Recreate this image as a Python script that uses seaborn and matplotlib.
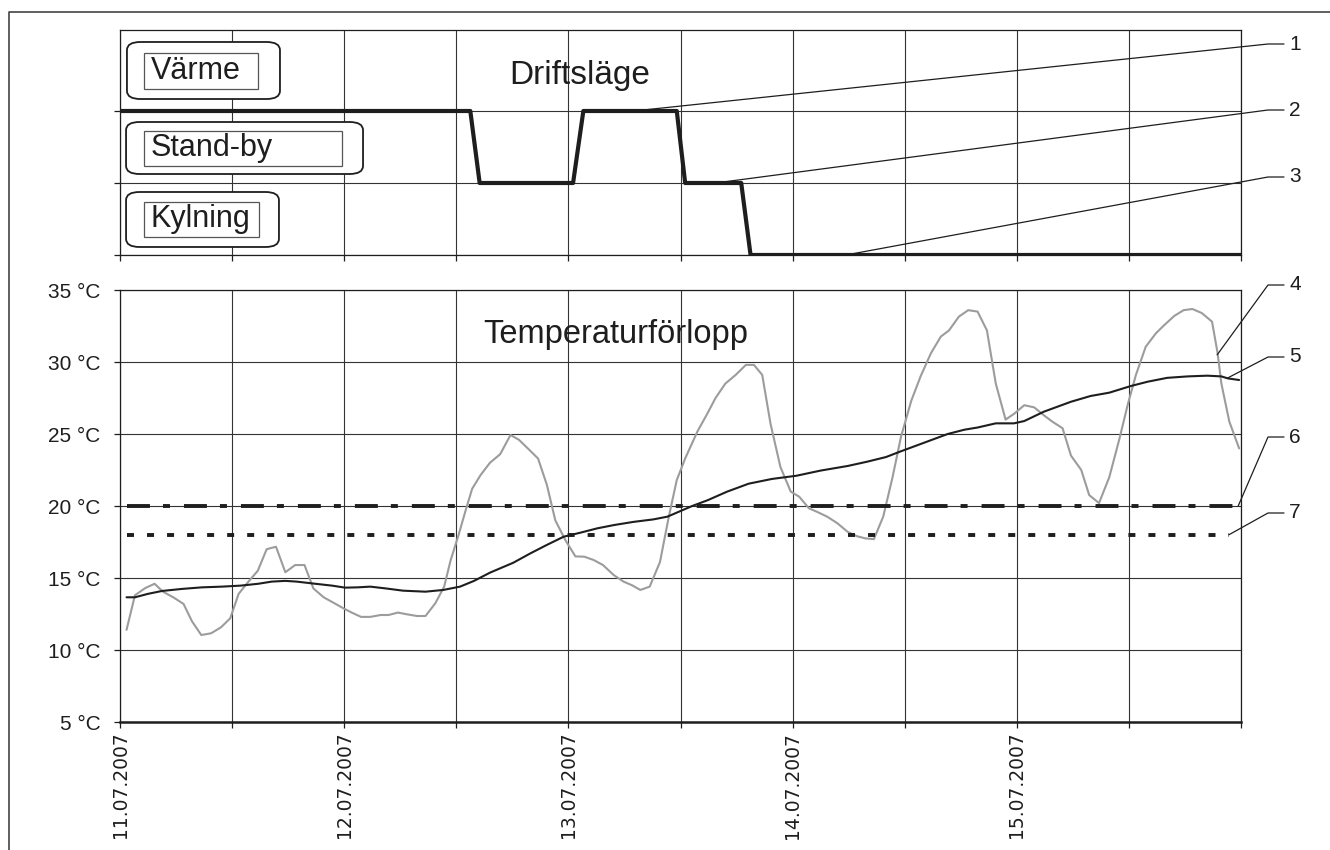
import numpy as np
import pandas as pd
import matplotlib.pyplot as plt
import seaborn as sns
from matplotlib.lines import Line2D
from matplotlib.patches import FancyBboxPatch, Rectangle

# --- data ---------------------------------------------------------------
# Driftsläge: 0 = Kylning, 1 = Stand-by, 2 = Värme (hours from 11.07.2007 00:00)
mode_hours = [0, 37.5, 38.5, 48.5, 49.6, 59.6, 60.5, 66.5, 67.5, 120]
mode_level = [2, 2, 1, 1, 2, 2, 1, 1, 0, 0]
mode_names = ["Kylning", "Stand-by", "Värme"]

# outdoor temperature (grey curve)
out_hours = [0.7, 1.6, 2.7, 3.7, 4.6, 5.7, 6.8, 7.7, 8.7, 9.75, 10.8, 11.8,
             12.7, 13.75, 14.75, 15.7, 16.7, 17.7, 18.75, 19.75, 20.7, 21.8,
             22.86, 23.9, 24.8, 25.8, 26.8, 27.9, 28.75, 29.75, 30.7, 31.8,
             32.7, 33.75, 34.7, 35.4, 36.25, 37.0, 37.7, 38.6, 39.6, 40.7,
             41.8, 42.7, 43.75, 44.75, 45.7, 46.6, 47.7, 48.75, 49.7, 50.7,
             51.7, 52.86, 53.9, 54.8, 55.7, 56.7, 57.8, 58.75, 59.6, 60.5,
             61.8, 62.86, 63.75, 64.8, 65.9, 67.0, 67.86, 68.75, 69.64, 70.7,
             71.8, 72.7, 73.75, 74.6, 75.7, 76.8, 77.9, 78.9, 79.8, 80.7,
             81.7, 82.7, 83.6, 84.7, 85.7, 86.8, 87.86, 88.75, 89.8, 90.8,
             91.8, 92.8, 93.75, 94.8, 95.7, 96.8, 97.86, 98.9, 99.8, 100.9,
             101.8, 102.9, 103.75, 104.8, 105.9, 106.96, 107.86, 108.75,
             109.8, 110.9, 111.8, 112.86, 113.86, 114.8, 115.8, 116.9, 117.5,
             117.9, 118.75, 119.8]
out_temp = [11.4, 13.8, 14.3, 14.6, 14.05, 13.66, 13.2, 12.0, 11.04, 11.16,
            11.57, 12.2, 13.9, 14.75, 15.5, 17.0, 17.17, 15.4, 15.9, 15.9,
            14.28, 13.66, 13.28, 12.9, 12.6, 12.3, 12.3, 12.43, 12.43, 12.6,
            12.48, 12.36, 12.36, 13.24, 14.4, 16.25, 18.0, 19.7, 21.2, 22.15,
            23.0, 23.6, 24.93, 24.6, 23.94, 23.3, 21.46, 19.0, 17.6, 16.5,
            16.48, 16.25, 15.9, 15.2, 14.75, 14.5, 14.17, 14.4, 16.1, 19.26,
            21.8, 23.3, 25.16, 26.4, 27.5, 28.5, 29.1, 29.8, 29.8, 29.1, 25.7,
            22.7, 21.0, 20.65, 19.84, 19.6, 19.26, 18.8, 18.2, 17.9, 17.75,
            17.7, 19.26, 22.0, 24.8, 27.3, 29.0, 30.6, 31.76, 32.2, 33.15,
            33.6, 33.5, 32.2, 28.5, 26.0, 26.4, 27.0, 26.85, 26.3, 25.86, 25.4,
            23.5, 22.5, 20.76, 20.2, 22.0, 24.6, 27.0, 29.1, 31.06, 32.0,
            32.57, 33.2, 33.6, 33.68, 33.4, 32.8, 30.6, 28.5, 25.86, 24.0]

# indoor temperature (black curve)
in_hours = [0.7, 1.6, 3.0, 4.5, 6.6, 8.75, 10.9, 12.9, 14.8, 16.25, 17.7,
            18.9, 20.9, 22.7, 24.1, 25.4, 26.8, 28.4, 30.3, 32.7, 34.6, 36.4,
            37.9, 39.6, 42.1, 43.9, 45.7, 47.5, 49.3, 51.1, 52.9, 55.0, 57.1,
            58.6, 60.0, 61.25, 62.9, 65.0, 67.3, 69.8, 72.4, 75.0, 77.9, 80.0,
            82.0, 83.6, 86.1, 88.6, 90.4, 91.8, 93.75, 95.7, 96.8, 98.9,
            101.8, 103.9, 105.9, 108.2, 110.0, 112.1, 114.3, 116.4, 117.9,
            118.6, 119.8]
in_temp = [13.66, 13.66, 13.9, 14.1, 14.24, 14.35, 14.4, 14.47, 14.6, 14.75,
           14.8, 14.75, 14.6, 14.47, 14.33, 14.35, 14.4, 14.28, 14.12, 14.05,
           14.17, 14.4, 14.8, 15.37, 16.06, 16.7, 17.3, 17.87, 18.15, 18.45,
           18.68, 18.9, 19.07, 19.26, 19.65, 20.0, 20.4, 21.0, 21.55, 21.88,
           22.1, 22.46, 22.78, 23.08, 23.4, 23.8, 24.4, 25.0, 25.3, 25.45,
           25.74, 25.74, 25.9, 26.55, 27.24, 27.64, 27.87, 28.33, 28.63, 28.9,
           29.0, 29.05, 29.0, 28.86, 28.75]

# limit lines
limit6_hours = [0.7, 119.7]
limit6_temp = [20, 20]
limit7_hours = [0.7, 118.7]
limit7_temp = [18, 18]

y_ticks = [5, 10, 15, 20, 25, 30, 35]
x_ticks = list(range(0, 121, 12))
day_labels = ["11.07.2007", "", "12.07.2007", "", "13.07.2007", "", "14.07.2007",
              "", "15.07.2007", "", ""]

# callouts: (number, x, y, axis)
callouts = [("1", 55.0, 2, "top"), ("2", 63.75, 1, "top"), ("3", 77.7, 0, "top"),
            ("4", 117.45, 30.5, "bot"), ("5", 118.6, 28.9, "bot"),
            ("6", 119.7, 20, "bot"), ("7", 118.7, 18, "bot")]

# --- style --------------------------------------------------------------
sns.set_theme(style="white")
plt.rcParams["font.family"] = ["Liberation Sans", "DejaVu Sans"]
ink = "#1e1e1e"
W, H = 1330, 850

fig = plt.figure(figsize=(13.3, 8.5), dpi=100)
ax_top = fig.add_axes([120 / W, 1 - 255 / H, 1121 / W, 225 / H])
ax_bot = fig.add_axes([120 / W, 1 - 722 / H, 1121 / W, 432 / H])

for ax in (ax_top, ax_bot):
    ax.set_xlim(0, 120)
    ax.set_xticks(x_ticks)
    ax.grid(True, color="#333333", lw=0.8)
    ax.set_axisbelow(True)
    for s in ax.spines.values():
        s.set_color(ink)
        s.set_linewidth(0.9)
    ax.tick_params(direction="out", length=4, width=0.9, color=ink,
                   left=True, bottom=True)

# --- top panel: operating mode ------------------------------------------
sns.lineplot(x=mode_hours, y=mode_level, ax=ax_top, color=ink, lw=3.0,
             estimator=None, sort=False)
ax_top.set_ylim(0, 3.125)
ax_top.set_yticks([0, 1, 2])
ax_top.set_yticklabels([])
ax_top.set_xticklabels([])
ax_top.set_xlabel("")
ax_top.set_ylabel("")
ax_top.text(0.41, 0.8, "Driftsläge", transform=ax_top.transAxes, ha="center",
            va="center", fontsize=24, color=ink)

# label boxes (outer rounded, inner square) in axes fractions
boxes = [
    ("Värme", (0.0062, 0.6933, 0.1365, 0.2534), (0.0214, 0.7378, 0.1017, 0.16)),
    ("Stand-by", (0.0054, 0.36, 0.2114, 0.2311), (0.0214, 0.3956, 0.1766, 0.1555)),
    ("Kylning", (0.0054, 0.0356, 0.1364, 0.2444), (0.0214, 0.08, 0.1026, 0.1556)),
]
for name, (ox, oy, ow, oh), (ix, iy, iw, ih) in boxes:
    outer = FancyBboxPatch((ox, oy), ow, oh, boxstyle="round,pad=0,rounding_size=0.012",
                           transform=ax_top.transAxes, fc="white", ec=ink, lw=1.3,
                           zorder=3, mutation_aspect=3.0)
    ax_top.add_patch(outer)
    inner = Rectangle((ix, iy), iw, ih, transform=ax_top.transAxes, fc="white",
                      ec="#555555", lw=0.9, zorder=4)
    ax_top.add_patch(inner)
    ax_top.text(ix + 0.006, iy + ih / 2, name, transform=ax_top.transAxes,
                ha="left", va="center", fontsize=22, color=ink, zorder=5)

# --- bottom panel: temperatures -----------------------------------------
sns.lineplot(x=out_hours, y=out_temp, ax=ax_bot, color="#9c9c9c", lw=1.5,
             estimator=None, sort=False)
sns.lineplot(x=in_hours, y=in_temp, ax=ax_bot, color=ink, lw=1.5,
             estimator=None, sort=False)
sns.lineplot(x=limit6_hours, y=limit6_temp, ax=ax_bot, color=ink, lw=2.8,
             estimator=None, sort=False)
ax_bot.lines[-1].set_dashes([5.9, 3.35, 1.8, 3.6])
ax_bot.lines[-1].set_dash_capstyle("butt")
sns.lineplot(x=limit7_hours, y=limit7_temp, ax=ax_bot, color=ink, lw=2.8,
             estimator=None, sort=False)
ax_bot.lines[-1].set_dashes([1.8, 3.35])
ax_bot.lines[-1].set_dash_capstyle("butt")

ax_bot.set_ylim(5, 35)
ax_bot.set_yticks(y_ticks)
ax_bot.set_yticklabels([f"{v} °C" for v in y_ticks], fontsize=15, color=ink)
ax_bot.set_xticklabels(day_labels, rotation=90, fontsize=13.5, color=ink,
                       family="DejaVu Sans", va="top", ha="center")
ax_bot.tick_params(axis="y", pad=10)
ax_bot.tick_params(axis="x", pad=3)
ax_bot.spines["bottom"].set_linewidth(1.8)
ax_bot.set_xlabel("")
ax_bot.set_ylabel("")
ax_bot.text(0.4425, 0.877, "Temperaturförlopp", transform=ax_bot.transAxes,
            ha="center", va="baseline", fontsize=23.5, color=ink)

# --- callout numbers with leader lines -----------------------------------
num_y_px = {"1": 44, "2": 110, "3": 177, "4": 285, "5": 357, "6": 437, "7": 513}
to_fig = fig.transFigure.inverted()
for num, hx, hy, which in callouts:
    ax = ax_top if which == "top" else ax_bot
    tx, ty = to_fig.transform(ax.transData.transform((hx, hy)))
    yn = 1 - num_y_px[num] / H
    fig.add_artist(Line2D([tx, 1268 / W, 1284 / W], [ty, yn, yn],
                          transform=fig.transFigure, color=ink, lw=0.9))
    fig.text(1289 / W, yn, num, ha="left", va="center", fontsize=15, color=ink)

# outer frame of the figure
fig.add_artist(Line2D([9 / W, 9 / W, 1.0], [0.0, 1 - 12 / H, 1 - 12 / H],
                      transform=fig.transFigure, color="#444444", lw=1.2))

plt.savefig("out.png", dpi=100)
